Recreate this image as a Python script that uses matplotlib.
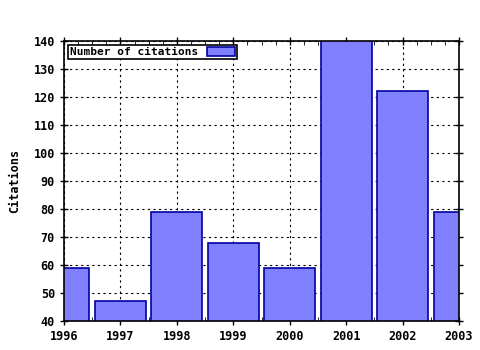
import numpy as np
import matplotlib.pyplot as plt
from matplotlib.ticker import MultipleLocator, FormatStrFormatter

years = [1996, 1997, 1998, 1999, 2000, 2001, 2002, 2003]
citations = [59, 47, 79, 68, 59, 141, 122, 79]

plt.rcParams['font.family'] = 'DejaVu Sans Mono'
plt.rcParams['font.weight'] = 'bold'
plt.rcParams['axes.labelweight'] = 'bold'
plt.rcParams['font.size'] = 8.5

fig = plt.figure(figsize=(4.8, 3.5), dpi=100)
ax = fig.add_axes([64/480, 1 - 321/350, (459-64)/480, (321-41)/350])

ax.bar(years, citations, width=0.9, color='#8080ff', edgecolor='#0000a0',
       linewidth=1.2, label='Number of citations', zorder=2)

ax.set_xlim(1996, 2003)
ax.set_ylim(40, 140)
ax.xaxis.set_major_locator(MultipleLocator(1))
ax.xaxis.set_minor_locator(MultipleLocator(0.25))
ax.xaxis.set_major_formatter(FormatStrFormatter('%d'))
ax.yaxis.set_major_locator(MultipleLocator(10))
ax.tick_params(which='major', direction='inout', length=6, width=1, top=True, right=True)
ax.tick_params(which='minor', direction='in', length=3, top=True)
ax.grid(True, linestyle=(0, (2, 3)), color='black', linewidth=0.8, zorder=1)
ax.set_axisbelow(True)
for s in ax.spines.values():
    s.set_linewidth(1.2)
ax.set_ylabel('Citations', labelpad=9)

leg = ax.legend(loc='upper left', markerfirst=False, fancybox=False,
                edgecolor='black', framealpha=1, borderpad=0.2,
                handlelength=2.5, handleheight=0.8, borderaxespad=0.35,
                fontsize=8)
leg.get_frame().set_linewidth(1.2)

fig.savefig('out.png', dpi=100)
